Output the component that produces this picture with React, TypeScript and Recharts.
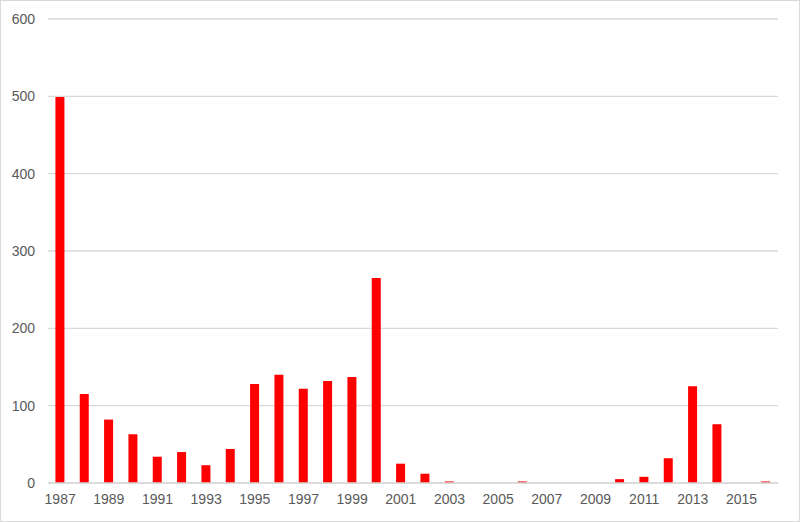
import { BarChart, Bar, XAxis, YAxis, CartesianGrid } from 'recharts';

const years = [
  '1987', '1988', '1989', '1990', '1991', '1992', '1993', '1994', '1995', '1996',
  '1997', '1998', '1999', '2000', '2001', '2002', '2003', '2004', '2005', '2006',
  '2007', '2008', '2009', '2010', '2011', '2012', '2013', '2014', '2015', '2016',
];

const counts = [
  499, 115, 82, 63, 34, 40, 23, 44, 128, 140,
  122, 132, 137, 265, 25, 12, 2, 0, 0, 2,
  0, 0, 0, 5, 8, 32, 125, 76, 0, 2,
];

const yTicks = [0, 100, 200, 300, 400, 500, 600];

const data = years.map((year, i) => ({ year, value: counts[i] }));

const tickStyle = { fill: '#595959', fontSize: 14, fontFamily: 'Liberation Sans, Arial, sans-serif' };

export default function App() {
  return (
    <div
      style={{
        position: 'fixed',
        top: 0,
        left: 0,
        width: 800,
        height: 522,
        boxSizing: 'border-box',
        border: '1px solid #d9d9d9',
        background: '#fff',
      }}
    >
      <BarChart
        width={798}
        height={520}
        data={data}
        margin={{ top: 18, right: 21, left: 0, bottom: 0 }}
        barCategoryGap="30.5%"
      >
        <CartesianGrid horizontal vertical={false} stroke="#d9d9d9" strokeWidth={1.3} />
        <XAxis
          dataKey="year"
          interval={1}
          height={38}
          tickLine={false}
          axisLine={{ stroke: '#d9d9d9', strokeWidth: 1.3 }}
          tick={{ ...tickStyle, dy: 3 }}
        />
        <YAxis
          width={47}
          domain={[0, 600]}
          ticks={yTicks}
          axisLine={false}
          tickLine={false}
          tickMargin={7}
          tick={tickStyle}
        />
        <Bar dataKey="value" fill="#ff0000" isAnimationActive={false} />
      </BarChart>
    </div>
  );
}
